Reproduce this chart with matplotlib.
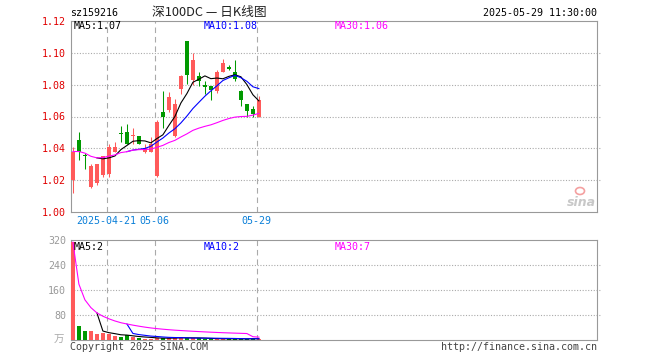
import numpy as np
import pandas as pd
from matplotlib import pyplot as plt
from matplotlib.patches import Ellipse

# daily k-line data, 32 trading days (index 6 = 04-21, 14 = 05-06, 31 = 05-29)
opens = [1.020, 1.045, 1.036, 1.016, 1.018, 1.023, 1.024, 1.038, 1.0495, 1.050,
         1.0478, 1.048, 1.038, 1.038, 1.0225, 1.063, 1.064, 1.0477, 1.077, 1.1075,
         1.083, 1.0856, 1.0795, 1.0794, 1.0763, 1.088, 1.091, 1.088, 1.0758, 1.068,
         1.0644, 1.060]
closes = [1.038, 1.038, 1.035, 1.029, 1.030, 1.035, 1.041, 1.041, 1.049, 1.043,
          1.0482, 1.043, 1.040, 1.043, 1.0565, 1.060, 1.0725, 1.068, 1.0855, 1.086,
          1.0956, 1.082, 1.0785, 1.0767, 1.088, 1.0933, 1.0896, 1.0835, 1.0704, 1.0635,
          1.0613, 1.0704]
highs = [1.041, 1.050, 1.037, 1.030, 1.030, 1.035, 1.043, 1.044, 1.054, 1.055,
         1.053, 1.048, 1.043, 1.047, 1.058, 1.076, 1.0755, 1.071, 1.086, 1.1075,
         1.100, 1.088, 1.0825, 1.0794, 1.0894, 1.096, 1.0925, 1.0956, 1.0767, 1.068,
         1.0663, 1.073]
lows = [1.012, 1.0325, 1.027, 1.015, 1.017, 1.022, 1.022, 1.038, 1.044, 1.043,
        1.043, 1.043, 1.037, 1.038, 1.022, 1.053, 1.063, 1.047, 1.074, 1.0805,
        1.080, 1.079, 1.074, 1.0704, 1.075, 1.088, 1.0895, 1.0825, 1.0665, 1.060,
        1.0596, 1.060]
# volume in 万
volumes = [313, 43, 27, 27, 18, 21, 17, 11, 9, 13,
           9, 6, 3, 3, 5, 5, 5, 5, 7, 5,
           4, 4, 2, 2, 2, 2, 3, 2, 2, 1,
           5, 2]

price_ticks = [1.00, 1.02, 1.04, 1.06, 1.08, 1.10, 1.12]
vol_ticks = [80, 160, 240, 320]
date_pos = [6, 14, 31]
date_labels = ['2025-04-21', '05-06', '05-29']

RED = '#ff5a5a'
GREEN = '#009900'
GRAY = '#999999'
MONO = 'DejaVu Sans Mono'
CJK = ['Noto Sans CJK SC', 'DejaVu Sans']

plt.rcParams['font.family'] = [MONO]

W, H = 660, 360
fig = plt.figure(figsize=(6.6, 3.6), dpi=100)


def box(x0, y0, x1, y1):
    # pixel box (top-left origin) -> figure fraction rect
    return [x0 / W, 1 - y1 / H, (x1 - x0) / W, (y1 - y0) / H]


def ftext(x, y, s, **kw):
    fig.text(x / W, 1 - y / H, s, **kw)


ax1 = fig.add_axes(box(70.5, 21, 597, 212))
ax2 = fig.add_axes(box(70.5, 240, 597, 339.5))

n = len(closes)
xs = np.arange(n) + 0.4
o = np.array(opens)
c = np.array(closes)
up = c > o
colors = [RED if u else GREEN for u in up]

for ax in (ax1, ax2):
    ax.set_xlim(0, (597 - 70.5) / 6)
    for s in ax.spines.values():
        s.set_color(GRAY)
        s.set_linewidth(0.8)
    for p in date_pos:
        ax.axvline(p, color='#aaaaaa', lw=0.8, ls=(0, (5, 3.5)), zorder=0)
    ax.tick_params(length=0, labelsize=7.2)

# price panel
for t in price_ticks[1:-1]:
    ax1.axhline(t, xmax=1.006, color='#aaaaaa', lw=0.8, ls=(0, (1, 1.5)),
                zorder=0, clip_on=False)
ax1.set_ylim(1.00, 1.12)
ax1.set_yticks(price_ticks)
ax1.set_yticklabels(['%.2f' % t for t in price_ticks], color='#e00000')
ax1.tick_params(axis='y', pad=3.2)
ax1.set_xticks(date_pos)
ax1.set_xticklabels(date_labels, color='#0a7fd8')
ax1.tick_params(axis='x', pad=3.0)

ax1.vlines(xs, lows, highs, colors=colors, lw=0.75, zorder=2)
heights = np.maximum(np.abs(c - o), 0.0007)
ax1.bar(xs, heights, bottom=np.minimum(o, c), width=0.78, color=colors, zorder=3)

cs = pd.Series(closes)
ax1.plot(xs, cs.rolling(5).mean(), color='black', lw=0.8, zorder=4)
ax1.plot(xs, cs.rolling(10).mean(), color='#0000ff', lw=0.8, zorder=4)
ax1.plot(xs, cs.rolling(30, min_periods=1).mean(), color='#ff00ff', lw=0.8, zorder=4)

# volume panel
for t in vol_ticks[:-1]:
    ax2.axhline(t, xmax=1.006, color='#aaaaaa', lw=0.8, ls=(0, (1, 1.5)),
                zorder=0, clip_on=False)
ax2.set_ylim(0, 320)
ax2.set_yticks(vol_ticks)
ax2.set_yticklabels([str(t) for t in vol_ticks], color=GRAY)
ax2.tick_params(axis='y', pad=3.2)
ax2.set_xticks([])
ax2.bar(xs, volumes, width=0.78, color=colors, zorder=3)
vs = pd.Series(volumes, dtype=float)
ax2.plot(xs, vs.rolling(5).mean(), color='black', lw=0.8, zorder=4)
ax2.plot(xs, vs.rolling(10).mean(), color='#0000ff', lw=0.8, zorder=4)
ax2.plot(xs, vs.rolling(30, min_periods=1).mean(), color='#ff00ff', lw=0.8, zorder=4)

# header texts
ftext(70, 13, 'sz159216', fontsize=7.2, va='center', ha='left', color='black')
ftext(209, 12.5, '深100DC — 日K线图', fontsize=9.2, va='center', ha='center',
      family=CJK, color='#222222')
ftext(597, 12.5, '2025-05-29 11:30:00', fontsize=7.2, va='center', ha='right', color='black')

# MA labels
ftext(74, 26, 'MA5:1.07', fontsize=7.2, va='center', color='black')
ftext(204, 26, 'MA10:1.08', fontsize=7.2, va='center', color='#0000ff')
ftext(335, 26, 'MA30:1.06', fontsize=7.2, va='center', color='#ff00ff')
ftext(74, 246.5, 'MA5:2', fontsize=7.2, va='center', color='black')
ftext(204, 246.5, 'MA10:2', fontsize=7.2, va='center', color='#0000ff')
ftext(335, 246.5, 'MA30:7', fontsize=7.2, va='center', color='#ff00ff')

# footer
ftext(64, 339.5, '万', fontsize=7.5, va='center', ha='right', family=CJK, color='#aaaaaa')
ftext(70, 346.5, 'Copyright 2025 SINA.COM', fontsize=7.2, va='center', ha='left', color='#444444')
ftext(597, 346.5, 'http://finance.sina.com.cn', fontsize=7.2, va='center', ha='right', color='#444444')

# sina watermark
ftext(596, 202, 'sina', fontsize=9, va='center', ha='right', style='italic',
      weight='bold', family=['DejaVu Sans'], color='#c8c8c8')
fig.patches.append(Ellipse((580 / W, 1 - 191 / H), 9 / W, 7 / H, transform=fig.transFigure,
                           fill=False, ec='#f4a0a0', lw=1.2))

fig.savefig('out.png', dpi=100)
